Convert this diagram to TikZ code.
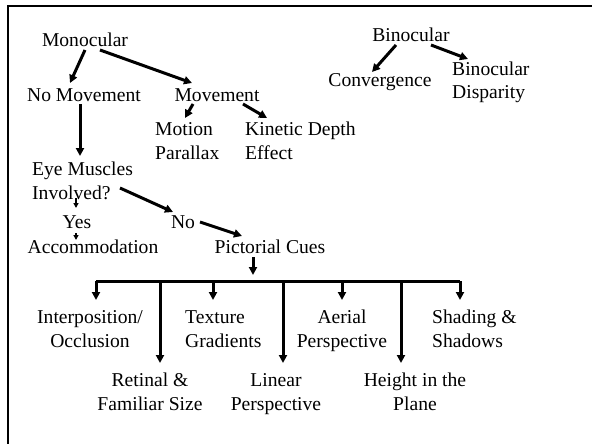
\documentclass[tikz,border=0pt]{standalone}
\usepackage{fontspec}
\setmainfont{Liberation Serif}
\usetikzlibrary{calc,arrows.meta}
\begin{document}
\begin{tikzpicture}[x=1pt,y=-1pt,
  lbl/.style={inner sep=0pt,font=\fontsize{19.6}{23.5}\selectfont},
  arr/.style={line width=3pt,-{Triangle[length=8pt,width=8pt]}},
  thinarr/.style={line width=1.6pt,-{Triangle[length=5pt,width=5pt]}}]
\useasboundingbox (0,0) rectangle (592,444);
\draw[line width=2.5pt] (8,444) -- (8,6) -- (592,6);
% nodes (base = baseline of the last line)
\node[lbl,anchor=base] (mono) at (85,47) {Monocular};
\node[lbl,anchor=base] (nomove) at (84,101) {No Movement};
\node[lbl,anchor=base] (move) at (217,101) {Movement};
\node[lbl,anchor=base west,align=left] (motion) at (155,159) {Motion\\Parallax};
\node[lbl,anchor=base west,align=left] (kinetic) at (245,159) {Kinetic Depth\\Effect};
\node[lbl,anchor=base west,align=left] (eye) at (32,199) {Eye Muscles\\Involved?};
\node[lbl,anchor=base] (yes) at (77,228) {Yes};
\node[lbl,anchor=base] (accom) at (93,253) {Accommodation};
\node[lbl,anchor=base] (no) at (183,228) {No};
\node[lbl,anchor=base] (pict) at (270,253) {Pictorial Cues};
\node[lbl,anchor=base,align=center] (interp) at (90,347) {Interposition/\\Occlusion};
\node[lbl,anchor=base west,align=left] (texture) at (185,347) {Texture\\Gradients};
\node[lbl,anchor=base,align=center] (aerial) at (342,347) {Aerial\\Perspective};
\node[lbl,anchor=base west,align=left] (shading) at (432,347) {Shading \&\\Shadows};
\node[lbl,anchor=base,align=center] (retinal) at (150,410) {Retinal \&\\Familiar Size};
\node[lbl,anchor=base,align=center] (linear) at (276,410) {Linear\\Perspective};
\node[lbl,anchor=base,align=center] (height) at (415,410) {Height in the\\Plane};
\node[lbl,anchor=base] (bino) at (411,42) {Binocular};
\node[lbl,anchor=base] (conv) at (380,86) {Convergence};
\node[lbl,anchor=base west,align=left] (disp) at (452,99) {Binocular\\Disparity};
% connectors
\draw[arr] ($(mono.base)+(0,3)$) -- ($(nomove.base)+(-14,-18)$);
\draw[arr] ($(mono.base)+(15,3)$) -- ($(move.base)+(-25,-18)$);
\draw[arr] ($(move.base)+(-24,3)$) -- ($(motion.base west)+(30,-41)$);
\draw[arr] ($(move.base)+(26,3)$) -- ($(kinetic.base west)+(22,-41)$);
\draw[arr] ($(nomove.base)+(-4,3)$) -- ($(eye.base west)+(48,-43)$);
\draw[arr] ($(eye.base west)+(88,-11)$) -- ($(no.base)+(-10,-16)$);
\draw[thinarr] ($(eye.base west)+(44,-1)$) -- ($(yes.base)+(-1,-20)$);
\draw[thinarr] ($(yes.base)+(-1,5)$) -- ($(accom.base)+(-17,-13)$);
\draw[arr] ($(no.base)+(17,-6)$) -- ($(pict.base)+(-28,-17)$);
\draw[arr] ($(pict.base)+(-17,4)$) -- ($(pict.base)+(-17,22)$);
\coordinate (barL) at ($(pict.base)+(-174,28)$);
\coordinate (barR) at ($(pict.base)+(190,28)$);
\draw[line width=3pt] (barL) -- (barR);
\coordinate (t1) at ($(interp.base)+(6,-47)$);
\coordinate (t2) at ($(texture.base west)+(28,-47)$);
\coordinate (t3) at ($(aerial.base)+(0,-47)$);
\coordinate (t4) at ($(shading.base west)+(28,-47)$);
\coordinate (t5) at ($(retinal.base)+(10,-47)$);
\coordinate (t6) at ($(linear.base)+(7,-47)$);
\coordinate (t7) at ($(height.base)+(-14,-47)$);
\foreach \t in {t1,t2,t3,t4,t5,t6,t7}
  \draw[arr] (\t |- barL) -- (\t);
\draw[arr] ($(bino.base)+(-15,3)$) -- ($(conv.base)+(-8,-14)$);
\draw[arr] ($(bino.base)+(20,3)$) -- ($(disp.base west)+(16,-40)$);
\end{tikzpicture}
\end{document}
